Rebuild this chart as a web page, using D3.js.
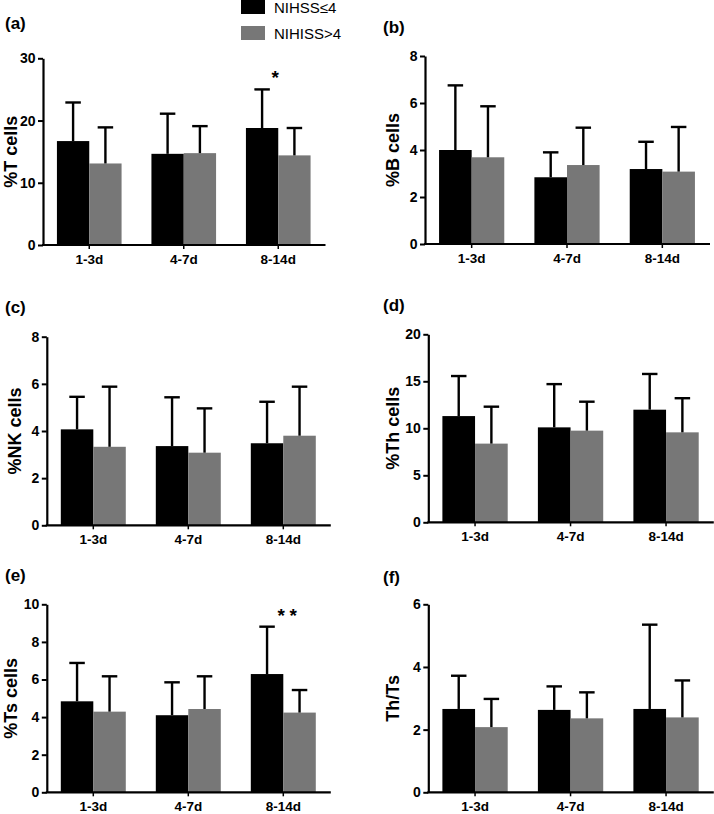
<!DOCTYPE html>
<html><head><meta charset="utf-8">
<script src="https://cdn.jsdelivr.net/npm/d3@7"></script>
<style>
body{margin:0;background:#fff}
svg{display:block}
text{font-family:"Liberation Sans",Arial,Helvetica,sans-serif;fill:#000}
</style>
</head><body>
<svg id="chart" width="714" height="814"></svg>
<script>
// ---------- data ----------
const categories = ["1-3d", "4-7d", "8-14d"];
const seriesNames = ["NIHSS≤4", "NIHISS>4"];
const panelLabels = ["(a)", "(b)", "(c)", "(d)", "(e)", "(f)"];
const yTitles = ["%T cells", "%B cells", "%NK cells", "%Th cells", "%Ts cells", "Th/Ts"];
const yMax = [30, 8, 8, 20, 10, 6];
const yStep = [10, 2, 2, 5, 2, 2];

// NIHSS<=4 group (black): mean and SD per panel
const lowMean = [
  [16.7, 14.65, 18.8],
  [4.0, 2.84, 3.19],
  [4.07, 3.36, 3.48],
  [11.3, 10.1, 11.98],
  [4.84, 4.1, 6.29],
  [2.66, 2.63, 2.66]
];
const lowSD = [
  [6.2, 6.45, 6.2],
  [2.75, 1.06, 1.16],
  [1.38, 2.07, 1.76],
  [4.26, 4.6, 3.8],
  [2.04, 1.75, 2.52],
  [1.06, 0.75, 2.69]
];
// NIHSS>4 group (gray)
const highMean = [
  [13.1, 14.76, 14.4],
  [3.69, 3.36, 3.08],
  [3.33, 3.08, 3.8],
  [8.37, 9.75, 9.57],
  [4.29, 4.43, 4.24],
  [2.08, 2.36, 2.39]
];
const highSD = [
  [5.8, 4.34, 4.4],
  [2.17, 1.59, 1.9],
  [2.55, 1.88, 2.08],
  [3.93, 3.08, 3.63],
  [1.88, 1.74, 1.2],
  [0.9, 0.83, 1.18]
];
// significance marks: [panel index, category index, text]
const sigMarks = [[0, 2, "*"], [4, 2, "**"]];

// ---------- layout ----------
const layout = [
  {x0: 42,    x1: 325.5, yb: 245,   yt: 58.3,  lx: 5,   ly: 29,  tx: 11},
  {x0: 424,   x1: 710,   yb: 244,   yt: 56,    lx: 383, ly: 33,  tx: 393},
  {x0: 45.8,  x1: 330.8, yb: 525.3, yt: 336.7, lx: 5,   ly: 313, tx: 15},
  {x0: 427.3, x1: 713.8, yb: 522.3, yt: 334.3, lx: 383, ly: 311, tx: 393},
  {x0: 45.8,  x1: 330.8, yb: 792.3, yt: 604.3, lx: 5,   ly: 581, tx: 11},
  {x0: 427.3, x1: 713.8, yb: 792.3, yt: 604.3, lx: 383, ly: 583, tx: 393}
];
const colors = ["#000000", "#777777"];
const FONT = "'Liberation Sans',Arial,sans-serif";

const svg = d3.select("#chart");

layout.forEach((L, p) => {
  const g = svg.append("g");
  const x = d3.scaleBand().domain(categories).range([L.x0, L.x1]).paddingInner(0.316).paddingOuter(0.158);
  const xs = d3.scaleBand().domain(seriesNames).range([0, x.bandwidth()]);
  const y = d3.scaleLinear().domain([0, yMax[p]]).range([L.yb, L.yt]);

  const means = [lowMean[p], highMean[p]];
  const sds = [lowSD[p], highSD[p]];

  const data = [];
  categories.forEach((c, ci) => {
    seriesNames.forEach((s, si) => {
      data.push({c, s, si, m: means[si][ci], sd: sds[si][ci]});
    });
  });

  // bars
  g.selectAll("rect.bar").data(data).enter().append("rect")
    .attr("class", "bar")
    .attr("x", d => x(d.c) + xs(d.s))
    .attr("width", xs.bandwidth())
    .attr("y", d => y(d.m))
    .attr("height", d => y(0) - y(d.m))
    .attr("fill", d => colors[d.si]);

  // error bars (upper only)
  const capW = 15.5;
  const cxOf = d => x(d.c) + xs(d.s) + xs.bandwidth() / 2;
  const eb = g.selectAll("g.eb").data(data).enter().append("g").attr("class", "eb");
  eb.append("line")
    .attr("x1", cxOf).attr("x2", cxOf)
    .attr("y1", d => y(d.m))
    .attr("y2", d => y(d.m + d.sd))
    .attr("stroke", "#000").attr("stroke-width", 2.4);
  eb.append("line")
    .attr("x1", d => cxOf(d) - capW / 2)
    .attr("x2", d => cxOf(d) + capW / 2)
    .attr("y1", d => y(d.m + d.sd))
    .attr("y2", d => y(d.m + d.sd))
    .attr("stroke", "#000").attr("stroke-width", 2.4);

  // y axis
  const yAxis = d3.axisLeft(y)
    .tickValues(d3.range(0, yMax[p] + 0.001, yStep[p]))
    .tickFormat(d3.format("d"))
    .tickSize(5).tickPadding(2.5)
    .tickSizeOuter(0);
  const ya = g.append("g").attr("transform", `translate(${L.x0 + 1},0)`).call(yAxis);
  ya.select(".domain").attr("stroke", "#000").attr("stroke-width", 2.2);
  ya.selectAll(".tick line").attr("stroke", "#000").attr("stroke-width", 2);
  ya.selectAll(".tick text").attr("font-size", 14).attr("font-weight", "bold").attr("fill", "#000")
    .style("font-family", FONT);

  // x axis
  const xAxis = d3.axisBottom(x).tickSize(4).tickPadding(5).tickSizeOuter(0);
  const xa = g.append("g").attr("transform", `translate(0,${L.yb})`).call(xAxis);
  xa.select(".domain").attr("stroke", "#000").attr("stroke-width", 2.2)
    .attr("d", `M${L.x0},0H${L.x1}`);
  xa.selectAll(".tick line").attr("stroke", "#000").attr("stroke-width", 1.5);
  xa.selectAll(".tick text").attr("font-size", 13.5).attr("font-weight", "bold").attr("fill", "#000")
    .style("font-family", FONT);

  // y title
  g.append("text")
    .attr("transform", `translate(${L.tx},${(L.yt + L.yb) / 2}) rotate(-90)`)
    .attr("text-anchor", "middle")
    .attr("dominant-baseline", "central")
    .attr("font-size", 18).attr("font-weight", "bold")
    .text(yTitles[p]);

  // panel label
  g.append("text")
    .attr("x", L.lx).attr("y", L.ly)
    .attr("font-size", 17).attr("font-weight", "bold")
    .text(panelLabels[p]);

  // significance
  sigMarks.filter(s => s[0] === p).forEach(s => {
    const c = categories[s[1]];
    const top = Math.max(lowMean[p][s[1]] + lowSD[p][s[1]], highMean[p][s[1]] + highSD[p][s[1]]);
    const cx = x(c) + x.bandwidth() / 2 + (s[2].length > 1 ? 4 : -3);
    const cy = y(top) - 15;
    const chars = s[2].split("");
    const sp = 12;
    chars.forEach((ch, i) => {
      g.append("text")
        .attr("x", cx + (i - (chars.length - 1) / 2) * sp)
        .attr("y", cy + 10)
        .attr("text-anchor", "middle")
        .attr("font-size", 19).attr("font-weight", "bold")
        .text(ch);
    });
  });
});

// legend
const leg = svg.append("g");
seriesNames.forEach((s, i) => {
  leg.append("rect").attr("x", 241).attr("y", i === 0 ? 0 : 26).attr("width", 24).attr("height", 14)
    .attr("fill", colors[i]);
  leg.append("text").attr("x", 274).attr("y", i === 0 ? 13 : 38.5)
    .attr("font-size", 15).text(s);
});
</script>
</body></html>
